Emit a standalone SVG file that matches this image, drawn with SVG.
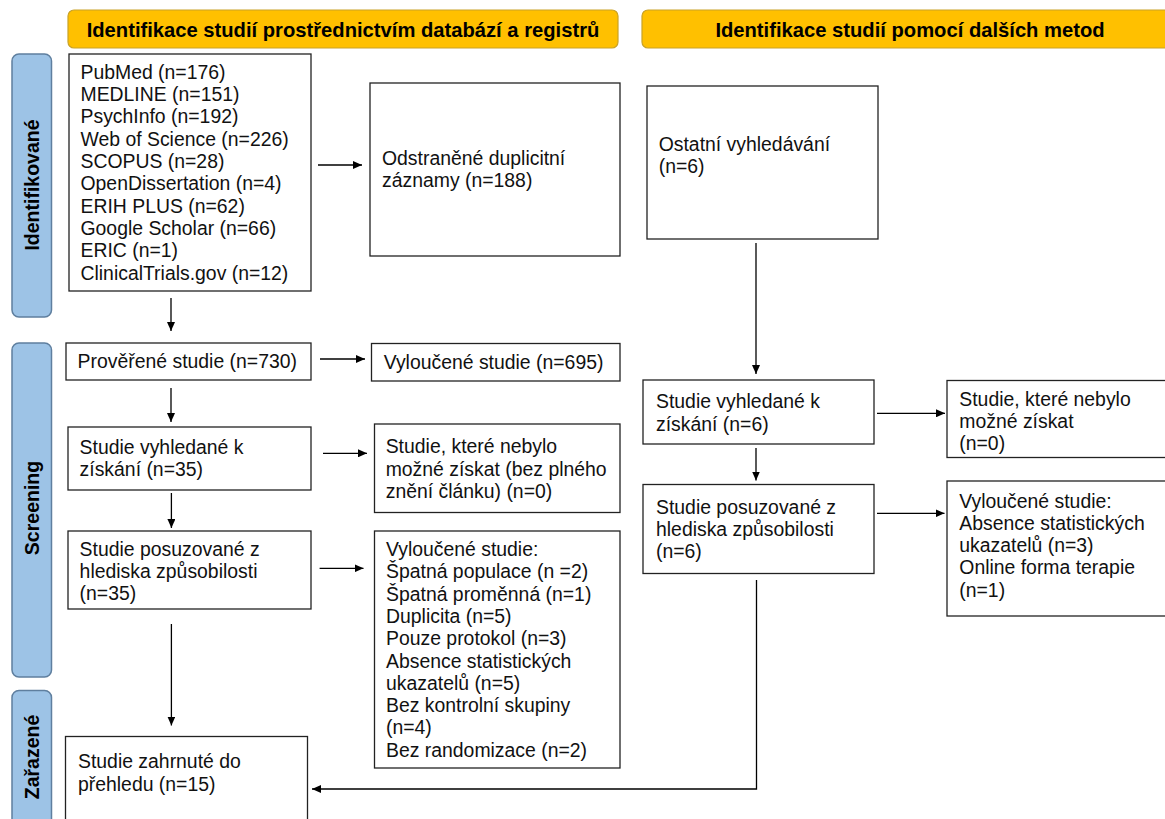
<svg xmlns="http://www.w3.org/2000/svg" width="1165" height="819" viewBox="0 0 1165 819">
<style>
  .hdr { fill: #FFC000; stroke: #C9A227; stroke-width: 1.2; }
  .hdrt { font-family: "Liberation Sans", Arial, sans-serif; font-weight: bold; font-size: 20.2px; fill: #000; text-anchor: middle; }
  .side { fill: #9DC3E6; stroke: #5F7F9F; stroke-width: 1.5; }
  .sidet { font-family: "Liberation Sans", Arial, sans-serif; font-weight: bold; font-size: 19.5px; fill: #000; text-anchor: middle; }
  .box { fill: #fff; stroke: #222; stroke-width: 1.3; }
  .t { font-family: "Liberation Sans", Arial, sans-serif; font-size: 19.4px; fill: #111; }
  .conn { fill: none; stroke: #000; stroke-width: 1.3; }
</style>
<defs>
  <marker id="ah" markerUnits="userSpaceOnUse" markerWidth="9" markerHeight="8" refX="9" refY="4" orient="auto">
    <path d="M0,0 L9,4 L0,8 z" fill="#000"/>
  </marker>
</defs>
<rect width="1165" height="819" fill="#fff"/>

<g id="header-db">
  <rect class="hdr" x="68" y="10" width="550" height="38" rx="6"/>
  <text class="hdrt" x="343" y="36.5">Identifikace studií prostřednictvím databází a registrů</text>
</g>
<g id="header-other">
  <rect class="hdr" x="642" y="10" width="540" height="38" rx="6"/>
  <text class="hdrt" x="910" y="36.5">Identifikace studií pomocí dalších metod</text>
</g>

<g id="side-identifikovane">
  <rect class="side" x="12" y="54" width="39.5" height="263" rx="7"/>
  <text class="sidet" transform="translate(39,185) rotate(-90)">Identifikované</text>
</g>
<g id="side-screening">
  <rect class="side" x="12" y="343" width="39.5" height="334" rx="7"/>
  <text class="sidet" transform="translate(39,508) rotate(-90)">Screening</text>
</g>
<g id="side-zarazene">
  <rect class="side" x="12" y="690.5" width="39.5" height="145" rx="7"/>
  <text class="sidet" transform="translate(39,757) rotate(-90)">Zařazené</text>
</g>

<g id="n-databases">
  <rect class="box" x="69" y="54" width="242" height="237"/>
  <text class="t" x="80.5" y="78.5">
    <tspan x="80.5" y="78.5">PubMed (n=176)</tspan>
    <tspan x="80.5" y="100.8">MEDLINE (n=151)</tspan>
    <tspan x="80.5" y="123.2">PsychInfo (n=192)</tspan>
    <tspan x="80.5" y="145.5">Web of Science (n=226)</tspan>
    <tspan x="80.5" y="167.8">SCOPUS (n=28)</tspan>
    <tspan x="80.5" y="190.2">OpenDissertation (n=4)</tspan>
    <tspan x="80.5" y="212.5">ERIH PLUS (n=62)</tspan>
    <tspan x="80.5" y="234.8">Google Scholar (n=66)</tspan>
    <tspan x="80.5" y="257.2">ERIC (n=1)</tspan>
    <tspan x="80.5" y="279.5">ClinicalTrials.gov (n=12)</tspan>
  </text>
</g>

<g id="n-duplicates">
  <rect class="box" x="370" y="83" width="250" height="173"/>
  <text class="t">
    <tspan x="382" y="164.5">Odstraněné duplicitní</tspan>
    <tspan x="382" y="186.8">záznamy (n=188)</tspan>
  </text>
</g>

<g id="n-other-search">
  <rect class="box" x="647" y="86" width="231" height="153"/>
  <text class="t">
    <tspan x="658.7" y="150.5">Ostatní vyhledávání</tspan>
    <tspan x="658.7" y="172.8">(n=6)</tspan>
  </text>
</g>

<g id="n-screened">
  <rect class="box" x="66" y="343" width="245" height="37"/>
  <text class="t" x="77.6" y="368.3">Prověřené studie (n=730)</text>
</g>

<g id="n-excluded-695">
  <rect class="box" x="371.5" y="343.5" width="248.5" height="37.5"/>
  <text class="t" x="383.7" y="368.8">Vyloučené studie (n=695)</text>
</g>

<g id="n-sought-35">
  <rect class="box" x="68" y="427" width="243" height="63"/>
  <text class="t">
    <tspan x="79.6" y="454.2">Studie vyhledané k</tspan>
    <tspan x="79.6" y="476.2">získání (n=35)</tspan>
  </text>
</g>

<g id="n-not-retrieved">
  <rect class="box" x="374.5" y="424" width="245.5" height="88.5"/>
  <text class="t">
    <tspan x="385.7" y="453.2">Studie, které nebylo</tspan>
    <tspan x="385.7" y="475.5">možné získat (bez plného</tspan>
    <tspan x="385.7" y="497.8">znění článku) (n=0)</tspan>
  </text>
</g>

<g id="n-assessed-35">
  <rect class="box" x="68" y="531" width="243" height="78"/>
  <text class="t">
    <tspan x="79.6" y="556">Studie posuzované z</tspan>
    <tspan x="79.6" y="578">hlediska způsobilosti</tspan>
    <tspan x="79.6" y="600">(n=35)</tspan>
  </text>
</g>

<g id="n-excluded-list">
  <rect class="box" x="374.5" y="531" width="245.5" height="237"/>
  <text class="t">
    <tspan x="386" y="556">Vyloučené studie:</tspan>
    <tspan x="386" y="578.3">Špatná populace (n =2)</tspan>
    <tspan x="386" y="600.6">Špatná proměnná (n=1)</tspan>
    <tspan x="386" y="622.9">Duplicita (n=5)</tspan>
    <tspan x="386" y="645.2">Pouze protokol (n=3)</tspan>
    <tspan x="386" y="667.5">Absence statistických</tspan>
    <tspan x="386" y="689.8">ukazatelů (n=5)</tspan>
    <tspan x="386" y="712.1">Bez kontrolní skupiny</tspan>
    <tspan x="386" y="734.4">(n=4)</tspan>
    <tspan x="386" y="756.7">Bez randomizace (n=2)</tspan>
  </text>
</g>

<g id="n-included">
  <rect class="box" x="65.5" y="736.5" width="242" height="100"/>
  <text class="t">
    <tspan x="78" y="768">Studie zahrnuté do</tspan>
    <tspan x="78" y="790.5">přehledu (n=15)</tspan>
  </text>
</g>

<g id="n-sought-6">
  <rect class="box" x="643" y="380" width="231" height="64"/>
  <text class="t">
    <tspan x="656" y="408.2">Studie vyhledané k</tspan>
    <tspan x="656" y="430.5">získání (n=6)</tspan>
  </text>
</g>

<g id="n-not-retrieved-6">
  <rect class="box" x="947" y="380.5" width="230" height="77"/>
  <text class="t">
    <tspan x="959.3" y="405.5">Studie, které nebylo</tspan>
    <tspan x="959.3" y="427.8">možné získat</tspan>
    <tspan x="959.3" y="450">(n=0)</tspan>
  </text>
</g>

<g id="n-assessed-6">
  <rect class="box" x="643" y="484.5" width="231" height="89"/>
  <text class="t">
    <tspan x="656" y="514">Studie posuzované z</tspan>
    <tspan x="656" y="536">hlediska způsobilosti</tspan>
    <tspan x="656" y="558">(n=6)</tspan>
  </text>
</g>

<g id="n-excluded-6">
  <rect class="box" x="947" y="481" width="230" height="135"/>
  <text class="t">
    <tspan x="959.3" y="507.5">Vyloučené studie:</tspan>
    <tspan x="959.3" y="529.8">Absence statistických</tspan>
    <tspan x="959.3" y="552">ukazatelů (n=3)</tspan>
    <tspan x="959.3" y="574.4">Online forma terapie</tspan>
    <tspan x="959.3" y="596.7">(n=1)</tspan>
  </text>
</g>

<g id="connectors">
  <line class="conn" x1="171" y1="298" x2="171" y2="331" marker-end="url(#ah)"/>
  <line class="conn" x1="318" y1="165" x2="362" y2="165" marker-end="url(#ah)"/>
  <line class="conn" x1="320" y1="359" x2="365" y2="359" marker-end="url(#ah)"/>
  <line class="conn" x1="171" y1="388" x2="171" y2="422" marker-end="url(#ah)"/>
  <line class="conn" x1="323" y1="453.3" x2="367" y2="453.3" marker-end="url(#ah)"/>
  <line class="conn" x1="171.4" y1="493" x2="171.4" y2="528" marker-end="url(#ah)"/>
  <line class="conn" x1="319.6" y1="568.3" x2="363.5" y2="568.3" marker-end="url(#ah)"/>
  <line class="conn" x1="171.4" y1="624" x2="171.4" y2="725.5" marker-end="url(#ah)"/>
  <line class="conn" x1="756" y1="243" x2="756" y2="374" marker-end="url(#ah)"/>
  <line class="conn" x1="877" y1="413.3" x2="945" y2="413.3" marker-end="url(#ah)"/>
  <line class="conn" x1="756" y1="448" x2="756" y2="480.5" marker-end="url(#ah)"/>
  <line class="conn" x1="877" y1="513.3" x2="944.5" y2="513.3" marker-end="url(#ah)"/>
  <polyline class="conn" points="756.5,580 756.5,789 312,789" marker-end="url(#ah)"/>
</g>
</svg>
